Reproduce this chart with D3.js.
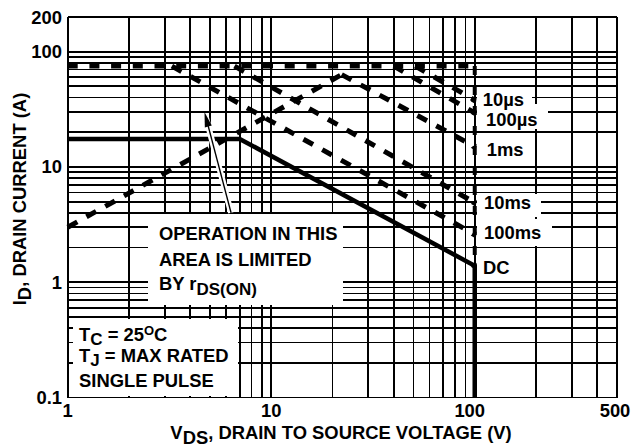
<!DOCTYPE html>
<html>
<head>
<meta charset="utf-8">
<script src="https://cdn.jsdelivr.net/npm/d3@7"></script>
<style>
  body { margin: 0; background: #fff; }
  text { font-family: "Liberation Sans", Arial, Helvetica, sans-serif; font-weight: bold; font-size: 18.4px; fill: #000; }
</style>
</head>
<body>
<div id="chart"></div>
<script>

// values (V in volts, I in amps)
var idLimit = 75;
var bvdss = 100;
var rdsV = [1, 22.2];
var rdsI = [3.0, 63.3];
var pulseNames = ["10\u00b5s", "100\u00b5s", "1ms", "10ms", "100ms"];
var pulseStartV = [51, 40, 22.2, 6.6, 3.25];
var pulseStartI = [75, 75, 63.3, 75, 75];
var pulseEndI = [38, 29.5, 15, 4.9, 2.6];
var dcV = [1, 7, 100, 100];
var dcI = [17.5, 17.5, 1.39, 0.1];
var xTicks = [1, 10, 100, 500];
var yTicks = [0.1, 1, 10, 100, 200];
var arrowTip = [4.7, 30];
var arrowTail = [6.35, 4.0];

var width = 634, height = 448;

var x = d3.scaleLog().domain([1, 500]).range([67.7, 617]);
var y = d3.scaleLog().domain([0.1, 200]).range([397.5, 17]);

var svg = d3.select('#chart').append('svg')
  .attr('width', width)
  .attr('height', height);

// grid: every 1-2-3..9 step inside each decade
var xGrid = [], yGrid = [];
[1, 10, 100].forEach(function(d) {
  for (var k = 1; k <= 9; k++) if (d * k <= 500) xGrid.push(d * k);
});
xGrid.push(500);
[0.1, 1, 10].forEach(function(d) {
  for (var k = 1; k <= 9; k++) yGrid.push(d * k);
});
yGrid.push(100, 200);

var grid = svg.append('g')
  .attr('stroke', '#000')
  .attr('stroke-width', 1.8)
  .attr('shape-rendering', 'crispEdges');

grid.selectAll('.vx').data(xGrid).enter().append('line')
  .attr('x1', function(d) { return x(d); })
  .attr('x2', function(d) { return x(d); })
  .attr('y1', y(200))
  .attr('y2', y(0.1));

grid.selectAll('.hy').data(yGrid).enter().append('line')
  .attr('y1', function(d) { return y(d); })
  .attr('y2', function(d) { return y(d); })
  .attr('x1', x(1))
  .attr('x2', x(500));

// white boxes behind the notes
var boxes = [
  [148, 214, 343, 305],   // operation note
  [73, 319, 238, 396],    // Tc note
  [477, 88, 532, 104],    // 10us
  [477, 104, 548, 129],   // 100us
  [477, 140, 530, 160],   // 1ms
  [477, 194, 541, 217],   // 10ms
  [477, 219, 552, 246],   // 100ms
  [477, 252, 535, 281]    // DC
];
svg.append('g').selectAll('rect').data(boxes).enter().append('rect')
  .attr('x', function(d) { return d[0]; })
  .attr('y', function(d) { return d[1]; })
  .attr('width', function(d) { return d[2] - d[0]; })
  .attr('height', function(d) { return d[3] - d[1]; })
  .attr('fill', '#fff');

var line = d3.line()
  .x(function(d) { return x(d[0]); })
  .y(function(d) { return y(d[1]); });

var curves = svg.append('g').attr('fill', 'none').attr('stroke', '#000');

// current limit
curves.append('path')
  .attr('d', line([[1, idLimit], [bvdss, idLimit]]))
  .attr('stroke-width', 5)
  .attr('stroke-dasharray', '10,11.7');

// rDS(on) limit
curves.append('path')
  .attr('d', line(d3.zip(rdsV, rdsI)))
  .attr('stroke-width', 5)
  .attr('stroke-dasharray', '11,10.5');

// pulse curves
pulseNames.forEach(function(name, i) {
  curves.append('path')
    .attr('d', line([[pulseStartV[i], pulseStartI[i]], [bvdss, pulseEndI[i]]]))
    .attr('stroke-width', 5)
    .attr('stroke-dasharray', '11,10.5');
});

// breakdown voltage, dashed part
curves.append('path')
  .attr('d', line([[bvdss, idLimit], [bvdss, dcI[2]]]))
  .attr('stroke-width', 4)
  .attr('stroke-dasharray', '9,11');

// DC
curves.append('path')
  .attr('d', line(d3.zip(dcV, dcI)))
  .attr('stroke-width', 4.5)
  .attr('stroke-linejoin', 'miter');

// little arrow heads at the curve ends
var ends = pulseEndI.concat([dcI[2]]);
svg.append('g').selectAll('path').data(ends).enter().append('path')
  .attr('d', function(d) {
    var px = x(bvdss) - 4, py = y(d) + 1;
    return 'M' + px + ',' + py + 'L' + (px + 6) + ',' + (py - 4) + 'L' + (px + 5) + ',' + (py + 3) + 'Z';
  })
  .attr('fill', '#000');

// arrow from the note
var tx = x(arrowTip[0]), ty = y(arrowTip[1]);
var sx = x(arrowTail[0]), sy = y(arrowTail[1]);
var len = Math.hypot(tx - sx, ty - sy);
var ux = (tx - sx) / len, uy = (ty - sy) / len;
svg.append('line')
  .attr('x1', sx).attr('y1', sy).attr('x2', tx - ux * 6).attr('y2', ty - uy * 6)
  .attr('stroke', '#fff').attr('stroke-width', 6);
svg.append('line')
  .attr('x1', sx).attr('y1', sy).attr('x2', tx - ux * 10).attr('y2', ty - uy * 10)
  .attr('stroke', '#000').attr('stroke-width', 1.4);
var bx = tx - ux * 15, by = ty - uy * 15;
svg.append('path')
  .attr('d', 'M' + tx + ',' + ty + 'L' + (bx - uy * 3.6) + ',' + (by + ux * 3.6) + 'L' + (bx + uy * 3.6) + ',' + (by - ux * 3.6) + 'Z')
  .attr('fill', '#000');

// tick labels
svg.append('g').selectAll('text').data(yTicks).enter().append('text')
  .attr('x', 62)
  .attr('y', function(d) { return y(d) + 6.5; })
  .attr('text-anchor', 'end')
  .text(function(d) { return d; });

svg.append('g').selectAll('text').data(xTicks).enter().append('text')
  .attr('x', function(d) { return x(d) + (d === 100 ? -5 : (d === 500 ? -2 : 0)); })
  .attr('y', 416.5)
  .attr('text-anchor', 'middle')
  .text(function(d) { return d; });

// axis titles
var xt = svg.append('text').attr('x', 341).attr('y', 439).attr('text-anchor', 'middle');
xt.append('tspan').text('V');
xt.append('tspan').attr('dy', 5).text('DS');
xt.append('tspan').attr('dy', -5).text(', DRAIN TO SOURCE VOLTAGE (V)');

var yt = svg.append('text').attr('transform', 'translate(26,199) rotate(-90)').attr('text-anchor', 'middle');
yt.append('tspan').text('I');
yt.append('tspan').attr('dy', 5).text('D');
yt.append('tspan').attr('dy', -5).text(', DRAIN CURRENT (A)');

// notes
svg.append('text').attr('x', 159).attr('y', 239.5).text('OPERATION IN THIS');
svg.append('text').attr('x', 159).attr('y', 265.5).text('AREA IS LIMITED');
var by1 = svg.append('text').attr('x', 159).attr('y', 290);
by1.append('tspan').text('BY r');
by1.append('tspan').attr('dy', 5).attr('font-size', 17).text('DS(ON)');

var tc = svg.append('text').attr('x', 79).attr('y', 341);
tc.append('tspan').text('T');
tc.append('tspan').attr('dy', 4).attr('font-size', 17).text('C');
tc.append('tspan').attr('dy', -4).text(' = 25');
tc.append('tspan').attr('dy', -6).attr('font-size', 13).text('O');
tc.append('tspan').attr('dy', 6).text('C');

var tj = svg.append('text').attr('x', 79).attr('y', 362);
tj.append('tspan').text('T');
tj.append('tspan').attr('dy', 4).attr('font-size', 17).text('J');
tj.append('tspan').attr('dy', -4).text(' = MAX RATED');

svg.append('text').attr('x', 79).attr('y', 387).text('SINGLE PULSE');

// curve labels
var labelPos = [[482.7, 106], [486, 126], [486.7, 156], [484, 209], [484, 239], [483, 274]];
pulseNames.concat(['DC']).forEach(function(name, i) {
  svg.append('text')
    .attr('x', labelPos[i][0])
    .attr('y', labelPos[i][1])
    .text(name);
});

</script>
</body>
</html>
